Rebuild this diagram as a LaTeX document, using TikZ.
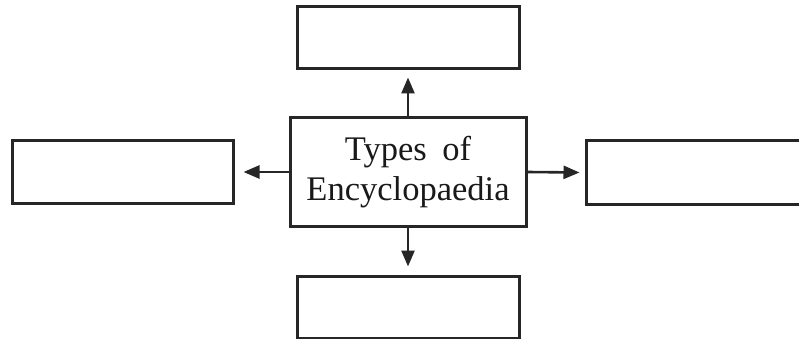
\documentclass[tikz,border=0pt]{standalone}
\usepackage{fontspec}
\setmainfont{Liberation Serif}
\usetikzlibrary{arrows.meta}
\begin{document}
\begin{tikzpicture}[x=1pt,y=-1pt,
  box/.style={draw=black!85,line width=3pt,fill=white},
  conn/.style={line width=2.6pt,draw=black!85,-{Triangle[length=16pt,width=13pt]}}]
\useasboundingbox (0,0) rectangle (799,339);
\begin{scope}
\clip (0,0) rectangle (799,339);
\node[box,minimum width=222pt,minimum height=62pt] (top) at (408,38) {};
\node[box,minimum width=222pt,minimum height=62pt] (bot) at (408,307) {};
\node[box,minimum width=221pt,minimum height=62pt] (left) at (122.5,172) {};
\node[box,minimum width=240pt,minimum height=63pt] (right) at (706,172.5) {};
\node[box,minimum width=236pt,minimum height=108pt,align=center,
  font=\fontsize{34.5}{40}\selectfont,text=black!90] (c) at (408,172)
  {Types\hspace{0.45em}of\\Encyclopaedia};
\draw[conn] (c.north) -- ([yshift=-7pt]top.south);
\draw[conn] (c.south) -- ([yshift=8pt]bot.north);
\draw[conn] (c.west) -- ([xshift=9pt]left.east);
\draw[conn] (c.east) -- ([xshift=-5pt]right.west);
\end{scope}
\end{tikzpicture}
\end{document}
